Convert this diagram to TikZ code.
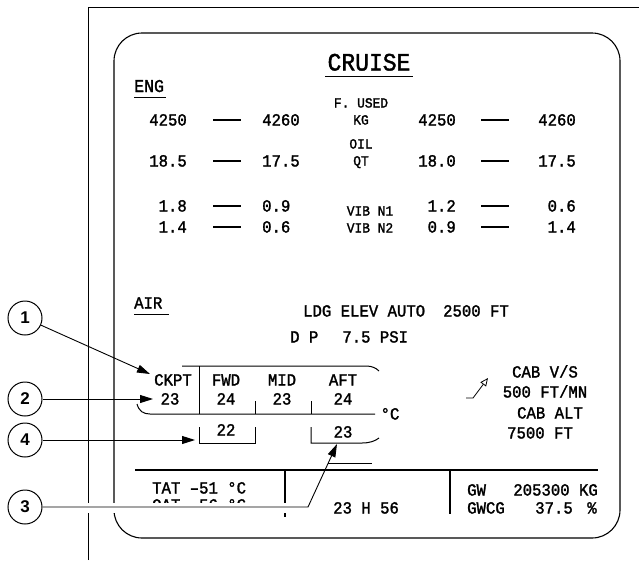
\documentclass[tikz,border=0pt]{standalone}
\usepackage{fontspec}
\setmainfont{Liberation Sans}
\newfontfamily\ecam{Liberation Mono}[FakeStretch=0.92,FakeBold=1.6]
\usetikzlibrary{arrows.meta}
\begin{document}
\begin{tikzpicture}[x=1pt,y=-1pt,
  t/.style={inner sep=0pt, text height=11pt, text depth=0pt, font=\ecam\fontsize{17}{17}\selectfont},
  s/.style={inner sep=0pt, text height=9pt, text depth=0pt, font=\ecam\fontsize{14}{14}\selectfont},
  big/.style={inner sep=0pt, text height=15pt, text depth=0pt, font=\ecam\fontsize{25}{25}\selectfont},
  hd/.style={inner sep=0pt, text height=12pt, text depth=0pt, font=\ecam\fontsize{18}{18}\selectfont},
  bar/.style={line width=2.5pt},
  ul/.style={line width=1.2pt},
  tl/.style={line width=1pt},
  call/.style={draw, circle, line width=1pt, minimum size=34pt, inner sep=0pt, font=\bfseries\fontsize{17}{17}\selectfont},
  lead/.style={line width=0.9pt, -{Triangle[length=13pt,width=8pt]}},
]
\useasboundingbox (0,0) rectangle (639,560);
% outer frame and panel
\draw[line width=1pt] (88,560) -- (88,7) -- (639,7);
\draw[line width=1.1pt, rounded corners=28pt] (114,33) rectangle (620,538);
% title
\node[big] (title) at (369,63) {CRUISE};
\draw[ul] ([xshift=-2pt,yshift=-6pt]title.south west) -- ([xshift=2pt,yshift=-6pt]title.south east);
% ENG
\node[hd, anchor=west] (eng) at (134,86) {ENG};
\draw[ul] ([yshift=-5pt]eng.south west) -- ([xshift=2pt,yshift=-5pt]eng.south east);
\node[s] (fused) at (361,103) {F. USED};
\node[s] (kg) at (361,120) {KG};
\node[s] (oil) at (361,144) {OIL};
\node[s] (qt) at (361,161) {QT};
\node[s] (vib1) at (370,211) {VIB N1};
\node[s] (vib2) at (370,228) {VIB N2};
% row 1
\node[t, anchor=east] (a1) at (187,120) {4250};
\node[t, anchor=west] (b1) at (262,120) {4260};
\node[t, anchor=east] (c1v) at (456,120) {4250};
\node[t, anchor=east] (d1) at (576,120) {4260};
% row 2
\node[t, anchor=east] (a2) at (187,161) {18.5};
\node[t, anchor=west] (b2) at (262,161) {17.5};
\node[t, anchor=east] (c2v) at (456,161) {18.0};
\node[t, anchor=east] (d2) at (576,161) {17.5};
% row 3
\node[t, anchor=east] (a3) at (187,206) {1.8};
\node[t, anchor=west] (b3v) at (262,206) {0.9};
\node[t, anchor=east] (c3v) at (456,206) {1.2};
\node[t, anchor=east] (d3) at (576,206) {0.6};
% row 4
\node[t, anchor=east] (a4) at (187,227) {1.4};
\node[t, anchor=west] (b4) at (262,227) {0.6};
\node[t, anchor=east] (c4v) at (456,227) {0.9};
\node[t, anchor=east] (d4) at (576,227) {1.4};
\foreach \yy in {120,161,206,227}{
  \draw[bar] (213,\yy) -- (241,\yy);
  \draw[bar] (481,\yy) -- (509,\yy);
}
% AIR
\node[t, anchor=west] (air) at (134,303) {AIR};
\draw[ul] ([yshift=-6pt]air.south west) -- ([xshift=6pt,yshift=-6pt]air.south east);
\node[t] (ldg) at (406,311) {LDG ELEV AUTO\hspace{18pt}2500 FT};
\node[t, anchor=west] (dp) at (290,337) {D P\hspace{24pt}7.5 PSI};
% cabin temperature table
\draw[tl] (182,366) -- (366,366) .. controls (372,366) and (376,368) .. (379,371);
\draw[tl] (137,404) .. controls (139,411) and (143,414) .. (150,414) -- (375,414);
\draw[tl] (199,366) -- (199,414);
\draw[tl] (255,401) -- (255,414);
\draw[tl] (311,401) -- (311,414);
\draw[tl] (199,427) -- (199,443) -- (255,443) -- (255,427);
\draw[tl] (311,427) -- (311,443) -- (362,443) .. controls (370,443) and (375,441) .. (379,438);
\node[t] (ckpt) at (173,380) {CKPT};
\node[t] (fwd) at (226,380) {FWD};
\node[t] (mid) at (282,380) {MID};
\node[t] (aft) at (343,380) {AFT};
\node[t] (ckv) at (170,399) {23};
\node[t] (fwv) at (226,399) {24};
\node[t] (miv) at (282,399) {23};
\node[t] (afv) at (343,399) {24};
\node[t] (degc) at (390,414) {°C};
\node[t] (fw2) at (226,430) {22};
\node[t] (af2) at (343,432) {23};
% cabin V/S and altitude
\node[t] (cabvs) at (545,372) {CAB V/S};
\node[t] (vsv) at (545,392) {500 FT/MN};
\node[t] (cabalt) at (550,413) {CAB ALT};
\node[t] (altv) at (540,433) {7500 FT};
\coordinate (va) at (466,398);
\coordinate (vb) at (473,398);
\coordinate (vc) at (488,378);
\draw[line width=0.8pt, -{Triangle[open,length=8pt,width=7pt]}] (va) -- (vb) -- (vc);
% bottom area
\draw[line width=1pt] (328,463) -- (372,463);
\draw[line width=2.6pt] (135,470) -- (598,470);
\draw[line width=2.4pt] (285,470) -- (285,517);
\draw[line width=2.4pt] (450,470) -- (450,514);
\node[t, anchor=west] (tat) at (152,488) {TAT \textendash51 °C};
\node[t, anchor=west] (oat) at (152,505) {OAT \textendash56 °C};
\node[t, anchor=west] (time) at (333,508) {23 H 56};
\node[t, anchor=west] (gw) at (467,490) {GW};
\node[t, anchor=east] (gwv) at (598,490) {205300 KG};
\node[t, anchor=west] (gwcg) at (467,508) {GWCG};
\node[t, anchor=east] (gwcgv) at (573,508) {37.5};
\node[t] (pct) at (592,508) {\%};
% white halo behind leader 3
\fill[white] (43,503) rectangle (306,512.5);
% callouts
\node[call] (k1) at (25,318) {1};
\node[call] (k2) at (25,399) {2};
\node[call] (k4) at (25,440) {4};
\node[call] (k3) at (25,507) {3};
\coordinate (t1) at (150,374);
\coordinate (t2) at (153,399);
\coordinate (t4) at (195,440);
\coordinate (m3) at (308,507);
\coordinate (t3) at (337,444);
\draw[lead] (k1) -- (t1);
\draw[lead] (k2) -- (t2);
\draw[lead] (k4) -- (t4);
\draw[lead] (k3) -- (m3) -- (t3);
\end{tikzpicture}
\end{document}
